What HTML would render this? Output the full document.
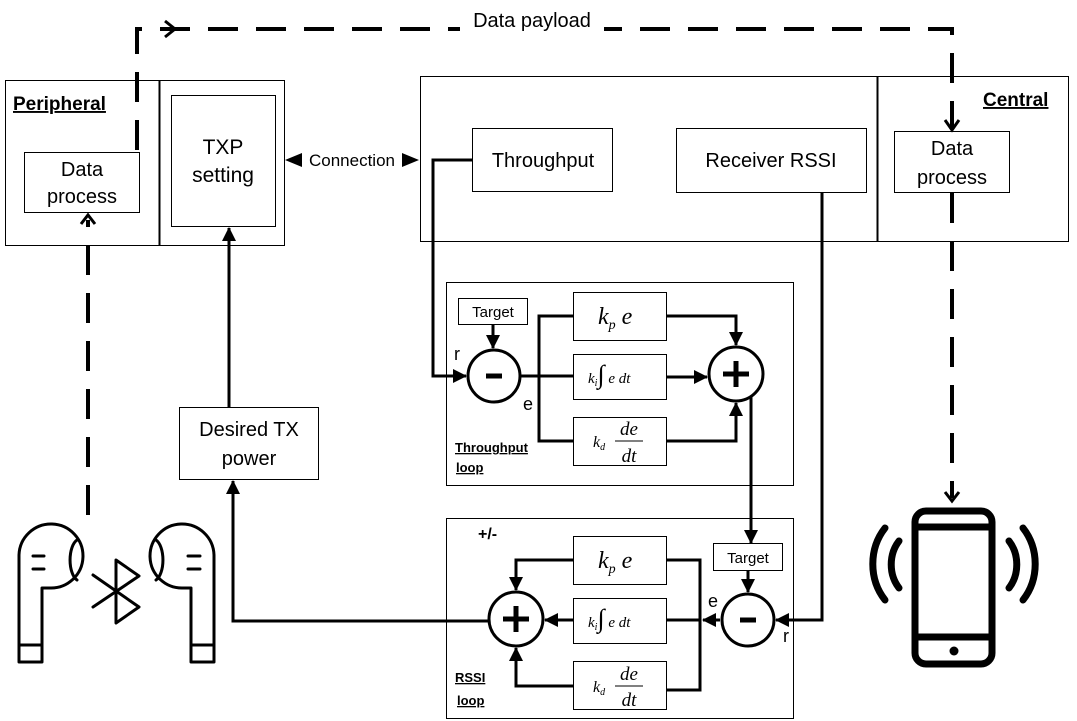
<!DOCTYPE html>
<html><head><meta charset="utf-8"><style>
html,body{margin:0;padding:0;background:#fff;}
svg{display:block;}
text{font-family:"Liberation Sans",sans-serif;fill:#000;}
.m{font-family:"Liberation Serif",serif;font-style:italic;}
</style></head><body>
<svg width="1077" height="721" viewBox="0 0 1077 721" xmlns="http://www.w3.org/2000/svg">
<defs>
<marker id="b" markerWidth="14" markerHeight="14" refX="13" refY="7" orient="auto" markerUnits="userSpaceOnUse"><path d="M0,0 L14,7 L0,14 z" fill="#000"/></marker>
</defs>
<g fill="none" stroke="#000" stroke-width="1">
<rect x="5.5" y="80.5" width="279" height="165"/>
<line x1="159.5" y1="80" x2="159.5" y2="246" stroke-width="2"/>
<rect x="24.5" y="152.5" width="115" height="60"/>
<rect x="171.5" y="95.5" width="104" height="131"/>
<rect x="420.5" y="76.5" width="648" height="165"/>
<line x1="877.5" y1="76" x2="877.5" y2="241" stroke-width="2"/>
<rect x="472.5" y="128.5" width="140" height="63"/>
<rect x="676.5" y="128.5" width="190" height="64"/>
<rect x="894.5" y="131.5" width="115" height="61"/>
<rect x="179.5" y="407.5" width="139" height="72"/>
<rect x="446.5" y="282.5" width="347" height="203"/>
<rect x="458.5" y="298.5" width="69" height="26"/>
<rect x="573.5" y="292.5" width="93" height="48"/>
<rect x="573.5" y="354.5" width="93" height="45"/>
<rect x="573.5" y="417.5" width="93" height="48"/>
<rect x="446.5" y="518.5" width="347" height="200"/>
<rect x="713.5" y="543.5" width="69" height="27"/>
<rect x="573.5" y="536.5" width="93" height="48"/>
<rect x="573.5" y="598.5" width="93" height="45"/>
<rect x="573.5" y="661.5" width="93" height="48"/>
</g>
<g fill="none" stroke="#000" stroke-width="3">
<circle cx="494" cy="376" r="26"/>
<circle cx="736" cy="374" r="27"/>
<circle cx="748" cy="620" r="26"/>
<circle cx="516" cy="619" r="27"/>
<polyline points="472,160 433,160 433,376 466,376" marker-end="url(#b)"/>
<line x1="493" y1="324" x2="493" y2="348" marker-end="url(#b)"/>
<line x1="520" y1="376" x2="573" y2="376"/>
<polyline points="573,316 539,316 539,441 573,441"/>
<polyline points="666,316 736,316 736,345" marker-end="url(#b)"/>
<line x1="666" y1="377" x2="707" y2="377" marker-end="url(#b)"/>
<polyline points="666,441 736,441 736,403" marker-end="url(#b)"/>
<line x1="751" y1="396" x2="751" y2="543" marker-end="url(#b)"/>
<polyline points="822,192 822,620 776,620" marker-end="url(#b)"/>
<line x1="748" y1="570" x2="748" y2="592" marker-end="url(#b)"/>
<line x1="720" y1="620" x2="703" y2="620" marker-end="url(#b)"/>
<polyline points="666,560 700,560 700,690 666,690"/>
<line x1="666" y1="620" x2="700" y2="620"/>
<polyline points="573,560 516,560 516,590" marker-end="url(#b)"/>
<line x1="573" y1="620" x2="545" y2="620" marker-end="url(#b)"/>
<polyline points="573,686 516,686 516,648" marker-end="url(#b)"/>
<polyline points="489,621 233,621 233,481" marker-end="url(#b)"/>
<line x1="229" y1="407" x2="229" y2="228" marker-end="url(#b)"/>
</g>
<g fill="none" stroke="#000" stroke-width="4">
<polyline points="137,150 137,29 952,29 952,128" stroke-dasharray="30,18"/>
<polyline points="945,120 952,130 959,120" stroke-width="3"/>
<polyline points="165,21 175,29 165,37" stroke-width="3"/>
<line x1="88" y1="515" x2="88" y2="220" stroke-dasharray="30,18"/>
<polyline points="81,224 88,215 95,224" stroke-width="3"/>
<line x1="952" y1="193" x2="952" y2="498" stroke-dasharray="30,18"/>
<polyline points="945,492 952,501 959,492" stroke-width="3"/>
</g>
<g stroke="#000" stroke-width="5">
<line x1="486" y1="376" x2="502" y2="376"/>
<line x1="740" y1="620" x2="756" y2="620"/>
<line x1="723" y1="374" x2="749" y2="374"/><line x1="736" y1="361" x2="736" y2="387"/>
<line x1="503" y1="619" x2="529" y2="619"/><line x1="516" y1="606" x2="516" y2="632"/>
</g>
<path d="M285,160 L302,153 L302,167 z M419,160 L402,153 L402,167 z" fill="#000"/>
<g fill="none" stroke="#000" stroke-width="3" stroke-linecap="round" stroke-linejoin="round">
<path d="M19,662 L19,555 A32,32 0 1 1 50,588 L42,588 L42,662 Z M19,645 L42,645"/>
<path d="M77,540 A10,21 0 0 0 77,580"/>
<path d="M33,556 L44,556 M33,569 L44,569"/>
<path d="M214,662 L214,555 A32,32 0 1 0 183,588 L191,588 L191,662 Z M214,645 L191,645"/>
<path d="M156,540 A10,21 0 0 1 156,580"/>
<path d="M188,556 L200,556 M188,569 L200,569"/>
<path d="M93,575 L139,607 L116,623 L116,560 L139,576 L93,607"/>
</g>
<g fill="none" stroke="#000" stroke-width="7" stroke-linecap="round">
<rect x="915" y="511" width="77" height="153" rx="11"/>
<line x1="915" y1="527" x2="992" y2="527"/>
<line x1="915" y1="637" x2="992" y2="637"/>
<path d="M885,528 A50,55 0 0 0 885,600"/>
<path d="M899,541 A30,35 0 0 0 899,588"/>
<path d="M1023,528 A50,55 0 0 1 1023,600"/>
<path d="M1009,541 A30,35 0 0 1 1009,588"/>
</g>
<circle cx="954" cy="651" r="4.5" fill="#000"/>
<rect x="460" y="18" width="144" height="16" fill="#fff"/>
<text x="532" y="27" font-size="20" text-anchor="middle">Data payload</text>
<text x="13" y="110" font-size="19" font-weight="bold" text-decoration="underline">Peripheral</text>
<text x="983" y="106" font-size="19" font-weight="bold" text-decoration="underline">Central</text>
<text x="82" y="176" font-size="20" text-anchor="middle">Data</text>
<text x="82" y="203" font-size="20" text-anchor="middle">process</text>
<text x="223" y="154" font-size="21" text-anchor="middle">TXP</text>
<text x="223" y="182" font-size="21" text-anchor="middle">setting</text>
<text x="352" y="166" font-size="17" text-anchor="middle">Connection</text>
<text x="543" y="167" font-size="20" text-anchor="middle">Throughput</text>
<text x="771" y="167" font-size="20" text-anchor="middle">Receiver RSSI</text>
<text x="952" y="155" font-size="20" text-anchor="middle">Data</text>
<text x="952" y="184" font-size="20" text-anchor="middle">process</text>
<text x="249" y="436" font-size="20" text-anchor="middle">Desired TX</text>
<text x="249" y="465" font-size="20" text-anchor="middle">power</text>
<text x="493" y="317" font-size="15" text-anchor="middle">Target</text>
<text x="748" y="563" font-size="15" text-anchor="middle">Target</text>
<text x="454" y="360" font-size="18">r</text>
<text x="523" y="410" font-size="18">e</text>
<text x="708" y="607" font-size="18">e</text>
<text x="783" y="642" font-size="18">r</text>
<text x="478" y="539" font-size="16" font-weight="bold">+/-</text>
<text x="455" y="452" font-size="13" font-weight="bold" text-decoration="underline">Throughput</text>
<text x="456" y="472" font-size="13" font-weight="bold" text-decoration="underline">loop</text>
<text x="455" y="682" font-size="13" font-weight="bold" text-decoration="underline">RSSI</text>
<text x="457" y="705" font-size="13" font-weight="bold" text-decoration="underline">loop</text>
<text x="598" y="324" font-size="24" class="m">k<tspan font-size="14" dy="5">p</tspan><tspan dy="-5" font-size="24"> e</tspan></text>
<text x="598" y="568" font-size="24" class="m">k<tspan font-size="14" dy="5">p</tspan><tspan dy="-5" font-size="24"> e</tspan></text>
<text x="588" y="383" font-size="15" class="m">k<tspan font-size="10" dy="3">i</tspan><tspan dy="-3" font-size="26">∫</tspan><tspan font-size="15"> e dt</tspan></text>
<text x="588" y="627" font-size="15" class="m">k<tspan font-size="10" dy="3">i</tspan><tspan dy="-3" font-size="26">∫</tspan><tspan font-size="15"> e dt</tspan></text>
<text x="593" y="447" font-size="16" class="m">k<tspan font-size="10" dy="3">d</tspan></text>
<text x="629" y="435" font-size="19" class="m" text-anchor="middle">de</text>
<text x="629" y="462" font-size="19" class="m" text-anchor="middle">dt</text>
<text x="593" y="692" font-size="16" class="m">k<tspan font-size="10" dy="3">d</tspan></text>
<text x="629" y="680" font-size="19" class="m" text-anchor="middle">de</text>
<text x="629" y="706" font-size="19" class="m" text-anchor="middle">dt</text>
<line x1="615" y1="441" x2="643" y2="441" stroke="#000" stroke-width="1"/>
<line x1="615" y1="686" x2="643" y2="686" stroke="#000" stroke-width="1"/>
</svg>
</body></html>
